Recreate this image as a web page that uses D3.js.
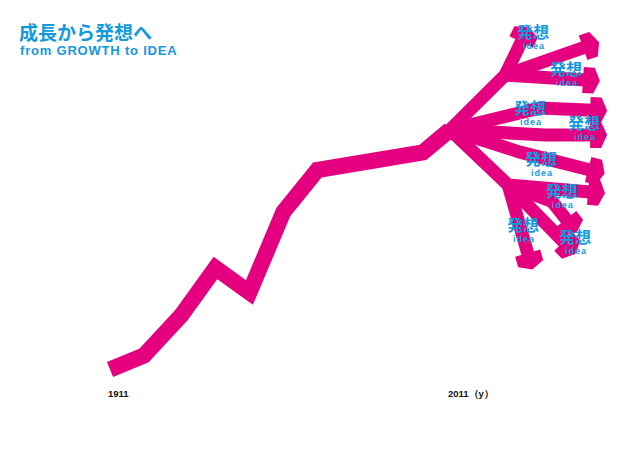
<!DOCTYPE html>
<html><head><meta charset="utf-8">
<script src="https://cdn.jsdelivr.net/npm/d3@7"></script>
<style>
html,body{margin:0;padding:0;background:#fff;}
svg{display:block;}
</style></head>
<body>
<svg id="c" width="640" height="452"></svg>
<script>
// ---- data ----
const mainYears  = [1911, 1921, 1932, 1942, 1952, 1962, 1972, 2003, 2011];
const mainValues = [3, 7, 18.5, 32, 25, 48, 60, 65, 71.5];

// branches after 2011 (year, value) – each starts at a node
const branchYears = [
  [2011, 2027.2, 2032.2],
  [2027.2, 2050.7],
  [2027.2, 2050.7],
  [2011, 2037.5, 2052.8],
  [2011, 2038.9, 2052.8],
  [2011, 2031.6, 2052.2],
  [2011, 2028.1, 2052.2],
  [2028.1, 2041, 2045.5],
  [2028.1, 2044.8],
  [2028.1, 2034]
];
const branchValues = [
  [71.5, 87.1, 97.1],
  [87.1, 95.1],
  [87.1, 85.7],
  [71.5, 77.7, 77.1],
  [71.5, 70, 70],
  [71.5, 65.1, 60],
  [71.5, 55.7, 53.7],
  [55.7, 51, 45.5],
  [55.7, 39.1],
  [55.7, 35.7]
];

const ideaYears  = [2035.4, 2045.1, 2034.5, 2050.4, 2037.8, 2043.9, 2032.5, 2047.8];
const ideaValues = [99.4, 88.9, 77.7, 73.4, 63.1, 54, 44.3, 40.9];
const ideaLabel = "発想";
const ideaSub = "idea";

const tickYears = [1911, 2011];
const tickLabels = ["1911", "2011（y）"];

const titleJa = "成長から発想へ";
const titleEn = "from GROWTH to IDEA";

// ---- drawing ----
const PINK = "#e4007f", BLUE = "#1399de";
const svg = d3.select("#c");
const x = d3.scaleLinear().domain([1911, 2011]).range([110, 450]);
const y = d3.scaleLinear().domain([0, 100]).range([380, 30]);

const line = d3.line().x(d => x(d[0])).y(d => y(d[1]));

svg.append("path")
  .datum(mainYears.map((yr, i) => [yr, mainValues[i]]))
  .attr("d", line)
  .attr("fill", "none").attr("stroke", PINK).attr("stroke-width", 16)
  .attr("stroke-linejoin", "miter").attr("stroke-linecap", "butt");

const branches = branchYears.map((ys, i) => ys.map((yr, j) => [yr, branchValues[i][j]]));
const g = svg.append("g");
g.selectAll("path.br").data(branches).join("path")
  .attr("class", "br")
  .attr("d", line)
  .attr("fill", "none").attr("stroke", PINK).attr("stroke-width", 13)
  .attr("stroke-linejoin", "miter").attr("stroke-linecap", "butt");

// arrow heads
const head = "M-2,-13L9,-13L15,0L9,13L-2,13Z";
g.selectAll("path.hd").data(branches).join("path")
  .attr("class", "hd")
  .attr("d", head)
  .attr("fill", PINK)
  .attr("transform", b => {
    const p1 = b[b.length - 2], p2 = b[b.length - 1];
    const ang = Math.atan2(y(p2[1]) - y(p1[1]), x(p2[0]) - x(p1[0])) * 180 / Math.PI;
    return `translate(${x(p2[0])},${y(p2[1])}) rotate(${ang})`;
  });

// idea labels
const lab = svg.append("g").attr("fill", BLUE).attr("text-anchor", "middle");
ideaYears.forEach((yr, i) => {
  lab.append("text").attr("x", x(yr)).attr("y", y(ideaValues[i]) + 6)
    .attr("font-family", "'Noto Sans CJK JP', sans-serif").attr("font-weight", 700)
    .attr("font-size", 16).text(ideaLabel);
  lab.append("text").attr("x", x(yr) + 1).attr("y", y(ideaValues[i]) + 17)
    .attr("font-family", "'Liberation Sans', Arial, sans-serif").attr("font-weight", 700)
    .attr("font-size", 9).attr("letter-spacing", 1).text(ideaSub);
});

// axis labels
svg.selectAll("text.tk").data(tickYears).join("text")
  .attr("class", "tk")
  .attr("x", d => x(d) - 2).attr("y", 397)
  .attr("font-family", "'Liberation Sans', Arial, sans-serif").attr("font-weight", 700)
  .attr("font-size", 9.5).attr("fill", "#111")
  .text((d, i) => tickLabels[i]);

// title
svg.append("text").attr("x", 19).attr("y", 40)
  .attr("font-family", "'Noto Sans CJK JP', sans-serif").attr("font-weight", 700)
  .attr("font-size", 19).attr("fill", BLUE).text(titleJa);
svg.append("text").attr("x", 20).attr("y", 55)
  .attr("font-family", "'Liberation Sans', Arial, sans-serif").attr("font-weight", 700)
  .attr("font-size", 13).attr("fill", BLUE).attr("letter-spacing", 0.8).text(titleEn);
</script>
</body></html>
